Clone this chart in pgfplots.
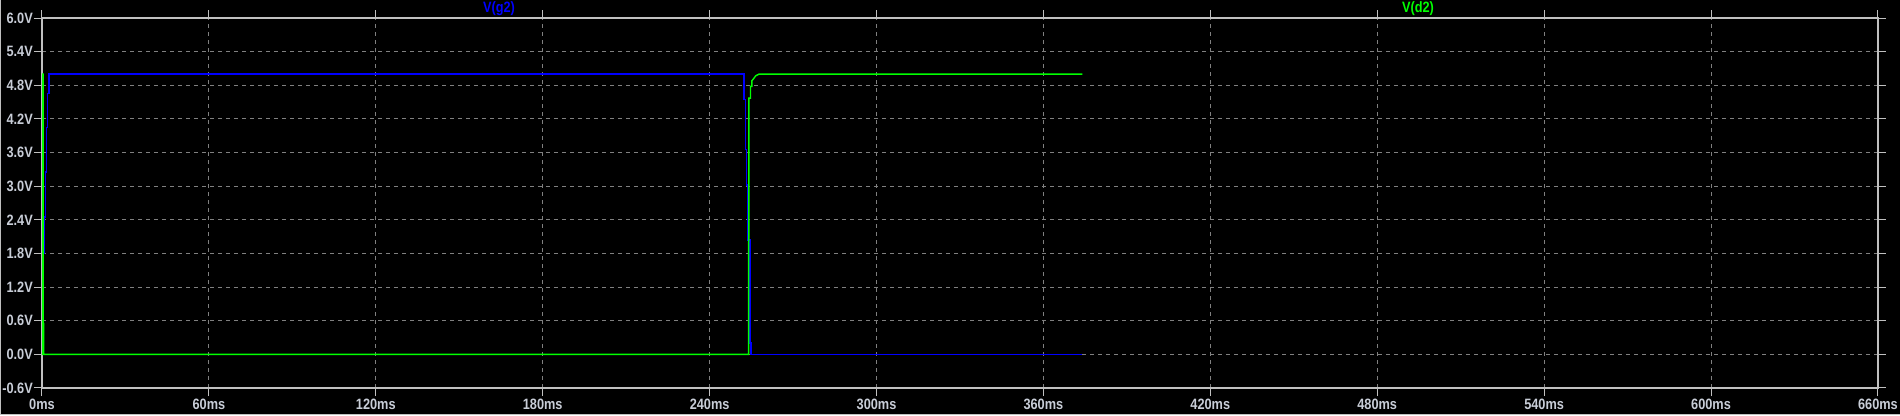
\documentclass[border=0pt]{standalone}
\usepackage{fontspec}
\setmainfont{Liberation Sans}
\newfontfamily\ltfont{Liberation Sans}[FakeStretch=0.85]
\usepackage{pgfplots}
\pgfplotsset{compat=1.18}
\definecolor{axgrey}{RGB}{192,192,192}
\definecolor{gridgrey}{RGB}{128,128,128}
\definecolor{labgrey}{RGB}{200,205,215}
\definecolor{ltblue}{RGB}{0,0,255}
\definecolor{ltgreen}{RGB}{0,255,0}
\begin{document}
\begin{tikzpicture}[x=1pt,y=1pt]
\fill[black] (0,0) rectangle (1900,415);
\begin{axis}[
  at={(42pt,27pt)}, anchor=south west,
  scale only axis, width=1836pt, height=370pt,
  xmin=0, xmax=660, ymin=-0.6, ymax=6.0,
  xtick={0,60,...,660}, ytick={-0.6,0,0.6,...,6.01},
  xticklabels={0ms,60ms,120ms,180ms,240ms,300ms,360ms,420ms,480ms,540ms,600ms,660ms},
  yticklabels={-0.6V,0.0V,0.6V,1.2V,1.8V,2.4V,3.0V,3.6V,4.2V,4.8V,5.4V,6.0V},
  tick align=outside, major tick length=8pt,
  tick style={axgrey, line width=1pt},
  axis line style={axgrey, line width=1.2pt},
  grid=major,
  major grid style={gridgrey, line width=0.9pt, dash pattern=on 4pt off 4pt},
  ticklabel style={font=\ltfont\bfseries\fontsize{15}{17}\selectfont, text=labgrey, inner sep=1pt},
  xticklabel style={yshift=-2pt},
  yticklabel style={xshift=0pt},
  clip=true,
]
\addplot[ltblue, line width=1.4pt] coordinates {
(0,0) (0.1,0) (0.1,0.35) (0.25,0.35) (0.25,1.05) (0.6,1.05) (0.6,1.8) (0.95,1.8) (0.95,2.45)
(1.3,2.45) (1.3,3.25) (1.7,3.25) (1.7,4.05) (2.0,4.05) (2.0,4.65) (2.5,4.65) (2.5,5.0)
(252.4,5.0) (252.4,4.55) (252.9,4.55) (252.9,3.65) (253.3,3.65) (253.3,3.02) (253.6,3.02)
(253.6,2.04) (254.5,2.04) (254.5,0.2) (254.9,0.2) (254.9,0) (374,0)
};
\addplot[ltgreen, line width=1.4pt] coordinates {
(0,0) (0.3,0) (0.3,5.0) (0.45,5.0) (0.45,0.55) (0.6,0.55) (0.6,0)
(254.0,0) (254.0,2.04) (254.1,2.04) (254.1,4.57) (254.7,4.57) (254.7,4.78) (255.2,4.78)
(255.2,4.88) (256.0,4.93) (256.6,4.97) (257.8,5.0) (374,5.0)
};
\end{axis}
\node[text=ltblue, font=\ltfont\bfseries\fontsize{15}{17}\selectfont] at (499,406) {V(g2)};
\node[text=ltgreen, font=\ltfont\bfseries\fontsize{15}{17}\selectfont] at (1418,406) {V(d2)};
\draw[axgrey, line width=1pt] (0.5,415) -- (0.5,1) -- (1900,1);
\pgfresetboundingbox
\useasboundingbox (0,0) rectangle (1900,415);
\end{tikzpicture}
\end{document}
